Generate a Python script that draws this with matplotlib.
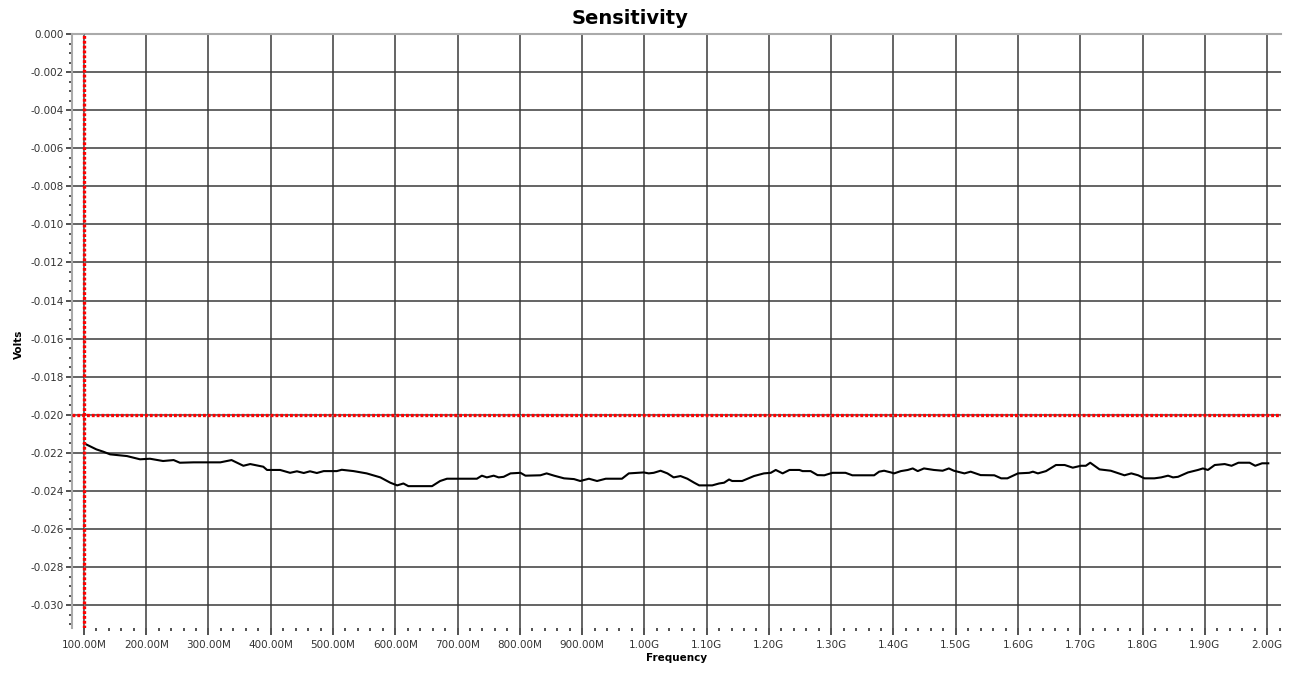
import matplotlib
matplotlib.use('Agg')
import matplotlib.pyplot as plt
from matplotlib.ticker import MultipleLocator, FuncFormatter

# frequency in MHz, sensitivity in volts
freq_mhz = [100, 120, 131, 142, 169, 190, 206, 227, 244, 254, 276, 319, 337, 356, 367,
            388, 394, 415, 431, 442, 453, 463, 474, 485, 506, 514, 533, 554, 576, 592,
            603, 613, 621, 659, 672, 683, 731, 739, 747, 758, 766, 774, 785, 801, 809,
            833, 843, 855, 871, 887, 897, 911, 924, 938, 964, 975, 999, 1007, 1015, 1026,
            1037, 1047, 1058, 1069, 1080, 1088, 1109, 1120, 1128, 1136, 1141, 1157, 1176,
            1192, 1203, 1211, 1222, 1233, 1249, 1254, 1267, 1278, 1289, 1302, 1323, 1334,
            1369, 1377, 1385, 1396, 1401, 1412, 1423, 1431, 1439, 1449, 1465, 1479, 1489,
            1497, 1514, 1524, 1540, 1562, 1573, 1583, 1600, 1618, 1624, 1632, 1645, 1661,
            1675, 1688, 1701, 1709, 1716, 1731, 1749, 1771, 1782, 1793, 1803, 1819, 1830,
            1841, 1849, 1857, 1873, 1889, 1897, 1905, 1916, 1932, 1943, 1954, 1972, 1981,
            1992, 2002]
volts = [-0.02150, -0.02182, -0.02194, -0.02208, -0.02217, -0.02234, -0.02231, -0.02243,
         -0.02238, -0.02252, -0.02250, -0.02250, -0.02238, -0.02268, -0.02259, -0.02273,
         -0.02290, -0.02290, -0.02305, -0.02297, -0.02306, -0.02297, -0.02306, -0.02296,
         -0.02296, -0.02289, -0.02296, -0.02308, -0.02329, -0.02357, -0.02371, -0.02361,
         -0.02375, -0.02375, -0.02348, -0.02336, -0.02336, -0.02320, -0.02329, -0.02320,
         -0.02329, -0.02326, -0.02308, -0.02305, -0.02320, -0.02318, -0.02308, -0.02320,
         -0.02334, -0.02338, -0.02348, -0.02336, -0.02348, -0.02336, -0.02336, -0.02308,
         -0.02303, -0.02308, -0.02305, -0.02294, -0.02308, -0.02329, -0.02322, -0.02336,
         -0.02357, -0.02371, -0.02371, -0.02361, -0.02357, -0.02340, -0.02348, -0.02348,
         -0.02322, -0.02308, -0.02305, -0.02290, -0.02308, -0.02290, -0.02290, -0.02296,
         -0.02296, -0.02317, -0.02318, -0.02305, -0.02305, -0.02318, -0.02318, -0.02299,
         -0.02294, -0.02303, -0.02308, -0.02296, -0.02290, -0.02282, -0.02296, -0.02282,
         -0.02290, -0.02294, -0.02282, -0.02294, -0.02308, -0.02299, -0.02317, -0.02318,
         -0.02334, -0.02334, -0.02308, -0.02305, -0.02299, -0.02308, -0.02296, -0.02264,
         -0.02264, -0.02278, -0.02268, -0.02268, -0.02252, -0.02287, -0.02294, -0.02318,
         -0.02308, -0.02318, -0.02334, -0.02334, -0.02329, -0.02320, -0.02329, -0.02326,
         -0.02303, -0.02290, -0.02282, -0.02290, -0.02264, -0.02259, -0.02268, -0.02252,
         -0.02252, -0.02268, -0.02255, -0.02255]

marker_freq = 100
marker_volts = -0.020


def freq_label(v, pos):
    if v < 1000:
        return f'{v:.2f}M'
    return f'{v / 1000:.2f}G'


fig = plt.figure(figsize=(12.94, 6.73), dpi=100)
ax = fig.add_axes([0.0556, 0.0669, 0.9344, 0.8826])

ax.plot(freq_mhz, volts, color='black', lw=1.5, zorder=4)

ax.set_xlim(80.7, 2022.5)
ax.set_ylim(-0.0312, 0.0)
ax.xaxis.set_major_locator(MultipleLocator(100))
ax.xaxis.set_minor_locator(MultipleLocator(20))
ax.yaxis.set_major_locator(MultipleLocator(0.002))
ax.yaxis.set_minor_locator(MultipleLocator(0.0005))
ax.xaxis.set_major_formatter(FuncFormatter(freq_label))
ax.yaxis.set_major_formatter(FuncFormatter(lambda v, p: f'{v:.3f}' if abs(v) > 1e-9 else '0.000'))

ax.grid(True, which='major', color='#3a3a3a', lw=1.1)
ax.set_axisbelow(True)

# marker lines: gray line with red dots on top
ax.axvline(marker_freq, color='#777777', lw=0.8, zorder=5)
ax.axhline(marker_volts, color='#777777', lw=0.8, zorder=5)
ax.axvline(marker_freq, color='red', lw=2.4, linestyle=(0, (0.85, 0.6)), zorder=6)
ax.axhline(marker_volts, color='red', lw=2.4, linestyle=(0, (0.85, 0.6)), zorder=6)

for s in ['right', 'bottom']:
    ax.spines[s].set_visible(False)
for s in ['left', 'top']:
    ax.spines[s].set_color('#aaaaaa')
    ax.spines[s].set_linewidth(1.5)

ax.tick_params(axis='both', which='major', length=4, width=1.2, color='#333333',
               labelsize=7.5, labelcolor='#333333', pad=2)
ax.tick_params(axis='x', which='major', length=5, pad=4)
ax.tick_params(axis='both', which='minor', length=2, width=1.2, color='#333333')

fig.text(630 / 1294, 1 - 18 / 673, 'Sensitivity', fontsize=14, fontweight='bold',
         ha='center', va='center')
ax.set_xlabel('Frequency', fontsize=7.5, fontweight='bold', labelpad=2)
ax.set_ylabel('Volts', fontsize=7.5, fontweight='bold')
ax.yaxis.set_label_coords(-0.04, 0.478)

fig.savefig('out.png', dpi=100)
